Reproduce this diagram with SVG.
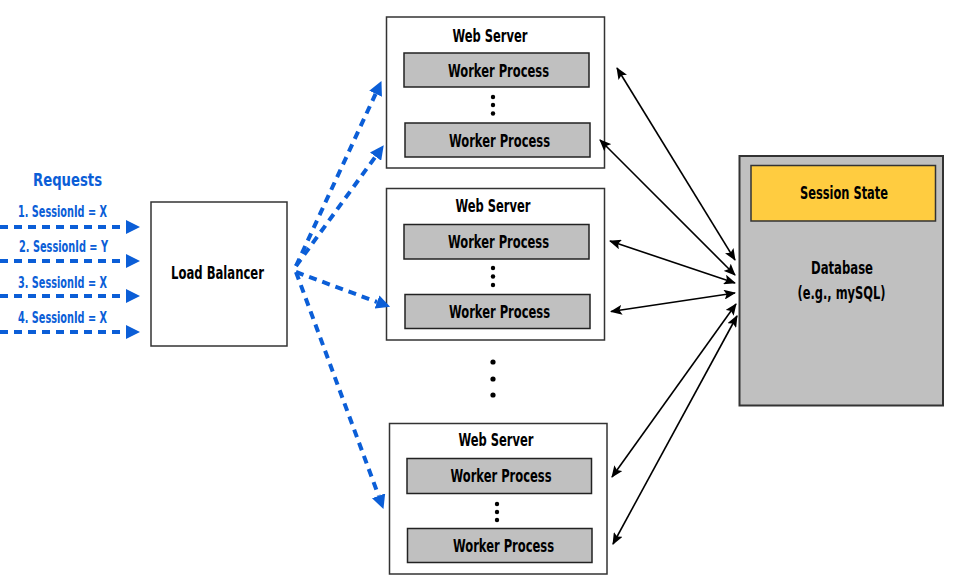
<svg xmlns="http://www.w3.org/2000/svg" width="958" height="588" viewBox="0 0 958 588">
<defs>
<style>
.t{font-family:"DejaVu Sans Condensed","Liberation Sans Narrow","Liberation Sans",sans-serif;font-weight:bold;font-size:17px;fill:#000;text-anchor:middle}
.bt{font-family:"DejaVu Sans Condensed","Liberation Sans Narrow","Liberation Sans",sans-serif;font-weight:bold;font-size:15px;fill:#0B5ED7;text-anchor:middle}
.box{fill:#fff;stroke:#333;stroke-width:1.5}
.wp{fill:#C0C0C0;stroke:#222;stroke-width:1.5}
.blue{fill:none;stroke:#0B5ED7;stroke-width:4;stroke-dasharray:8 6;marker-end:url(#bh)}
.blk{fill:none;stroke:#000;stroke-width:1.6;marker-start:url(#kh);marker-end:url(#kh)}
</style>
<marker id="bh" markerUnits="userSpaceOnUse" markerWidth="14" markerHeight="14" refX="0" refY="7" orient="auto"><path d="M0,0 L14,7 L0,14 z" fill="#0B5ED7"/></marker>
<marker id="kh" markerUnits="userSpaceOnUse" markerWidth="12" markerHeight="10" refX="11" refY="5" orient="auto-start-reverse"><path d="M0,0 L12,5 L0,10 L2.5,5 z" fill="#000"/></marker>
</defs>
<rect width="958" height="588" fill="#fff"/>

<g id="requests">
<text class="bt" x="67.5" y="186" style="font-size:18px" textLength="69" lengthAdjust="spacingAndGlyphs">Requests</text>
<text class="bt" x="62.5" y="217" textLength="89" lengthAdjust="spacingAndGlyphs">1. SessionId = X</text>
<text class="bt" x="63.5" y="252" textLength="89" lengthAdjust="spacingAndGlyphs">2. SessionId = Y</text>
<text class="bt" x="62.5" y="288" textLength="89" lengthAdjust="spacingAndGlyphs">3. SessionId = X</text>
<text class="bt" x="62.5" y="323" textLength="89" lengthAdjust="spacingAndGlyphs">4. SessionId = X</text>
</g>

<g id="load-balancer">
<rect class="box" x="151" y="202" width="136" height="144"/>
<text class="t" x="217.5" y="279" textLength="93" lengthAdjust="spacingAndGlyphs">Load Balancer</text>
</g>

<g id="web-server-1">
<rect class="box" x="386.5" y="17" width="218" height="151"/>
<text class="t" x="490" y="42" textLength="75" lengthAdjust="spacingAndGlyphs">Web Server</text>
<rect class="wp" x="404" y="53" width="185" height="34"/>
<text class="t" x="498.5" y="76.5" textLength="101" lengthAdjust="spacingAndGlyphs">Worker Process</text>
<circle cx="493" cy="97" r="2.2"/><circle cx="493" cy="105" r="2.2"/><circle cx="493" cy="113.5" r="2.2"/>
<rect class="wp" x="405" y="123" width="185" height="34"/>
<text class="t" x="499.5" y="146.5" textLength="101" lengthAdjust="spacingAndGlyphs">Worker Process</text>
</g>

<g id="web-server-2">
<rect class="box" x="386.5" y="188.5" width="218" height="151.5"/>
<text class="t" x="493" y="212" textLength="75" lengthAdjust="spacingAndGlyphs">Web Server</text>
<rect class="wp" x="404" y="224.5" width="185" height="34.5"/>
<text class="t" x="498.5" y="248" textLength="101" lengthAdjust="spacingAndGlyphs">Worker Process</text>
<circle cx="493" cy="268" r="2.2"/><circle cx="493" cy="276.5" r="2.2"/><circle cx="493" cy="285" r="2.2"/>
<rect class="wp" x="405" y="294.5" width="185" height="34"/>
<text class="t" x="499.5" y="318" textLength="101" lengthAdjust="spacingAndGlyphs">Worker Process</text>
</g>

<g id="more-servers">
<circle cx="493" cy="362" r="2.6"/><circle cx="493" cy="379" r="2.6"/><circle cx="493" cy="395" r="2.6"/>
</g>

<g id="web-server-3">
<rect class="box" x="389.5" y="423.5" width="217.5" height="150.5"/>
<text class="t" x="496" y="446" textLength="75" lengthAdjust="spacingAndGlyphs">Web Server</text>
<rect class="wp" x="407" y="458.5" width="184.5" height="35"/>
<text class="t" x="501" y="482" textLength="101" lengthAdjust="spacingAndGlyphs">Worker Process</text>
<circle cx="497" cy="504" r="2.2"/><circle cx="497" cy="512" r="2.2"/><circle cx="497" cy="520" r="2.2"/>
<rect class="wp" x="407.5" y="528.5" width="184.5" height="34"/>
<text class="t" x="503.5" y="552" textLength="101" lengthAdjust="spacingAndGlyphs">Worker Process</text>
</g>

<g id="database">
<rect x="739.5" y="156" width="203.5" height="249.5" fill="#C0C0C0" stroke="#333" stroke-width="2"/>
<rect x="751" y="165.5" width="184.5" height="55.5" fill="#FFCC40" stroke="#333" stroke-width="1.5"/>
<text class="t" x="844" y="199" textLength="88" lengthAdjust="spacingAndGlyphs">Session State</text>
<text class="t" x="842" y="274" textLength="62" lengthAdjust="spacingAndGlyphs">Database</text>
<text class="t" x="841.5" y="299" textLength="88" lengthAdjust="spacingAndGlyphs">(e.g., mySQL)</text>
</g>

<g id="connectors">
<line class="blue" x1="0" y1="227" x2="126" y2="227"/>
<line class="blue" x1="0" y1="261" x2="126" y2="261"/>
<line class="blue" x1="0" y1="296" x2="126" y2="296"/>
<line class="blue" x1="0" y1="332" x2="126" y2="332"/>
<line class="blue" x1="296" y1="266" x2="375.6" y2="93.8"/>
<line class="blue" x1="296" y1="266" x2="375.5" y2="156.6"/>
<line class="blue" x1="296" y1="272" x2="377" y2="302"/>
<line class="blue" x1="296" y1="272" x2="378.6" y2="495.8"/>
<line class="blk" x1="617" y1="68" x2="735" y2="260"/>
<line class="blk" x1="600" y1="140" x2="735" y2="275"/>
<line class="blk" x1="610" y1="241" x2="735" y2="283"/>
<line class="blk" x1="611" y1="311.5" x2="735" y2="293"/>
<line class="blk" x1="612" y1="477" x2="736" y2="304"/>
<line class="blk" x1="613" y1="544" x2="737" y2="316"/>
</g>
</svg>
